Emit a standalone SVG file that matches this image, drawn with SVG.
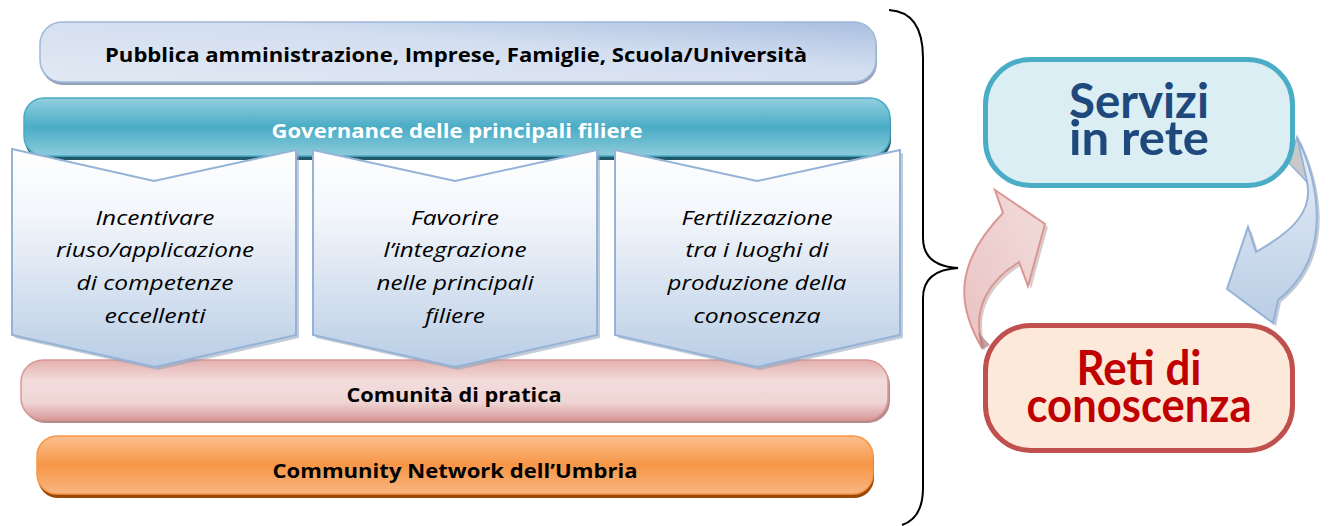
<svg xmlns="http://www.w3.org/2000/svg" width="1330" height="526" viewBox="0 0 1330 526">
<defs>
<linearGradient id="gTop" x1="0" y1="1" x2="1" y2="0">
<stop offset="0" stop-color="#e2e9f3"/>
<stop offset="0.6" stop-color="#d3def0"/>
<stop offset="1" stop-color="#a9bfdf"/>
</linearGradient>
<linearGradient id="gGov" x1="0" y1="0" x2="0" y2="1">
<stop offset="0" stop-color="#93cfdf"/>
<stop offset="0.5" stop-color="#4aacc6"/>
<stop offset="1" stop-color="#8ccbdb"/>
</linearGradient>
<linearGradient id="gCom" x1="0" y1="0" x2="0" y2="1">
<stop offset="0" stop-color="#e3b0ae"/>
<stop offset="0.35" stop-color="#f2dcdb"/>
<stop offset="0.7" stop-color="#efd6d5"/>
<stop offset="1" stop-color="#d9999a"/>
</linearGradient>
<linearGradient id="gNet" x1="0" y1="0" x2="0" y2="1">
<stop offset="0" stop-color="#fabf8f"/>
<stop offset="0.5" stop-color="#f79646"/>
<stop offset="1" stop-color="#f9b683"/>
</linearGradient>
<linearGradient id="gChev" x1="0" y1="0" x2="0" y2="1">
<stop offset="0" stop-color="#ffffff"/>
<stop offset="0.3" stop-color="#f3f6fb"/>
<stop offset="1" stop-color="#b9cde5"/>
</linearGradient>
<linearGradient id="gRed" x1="0" y1="1" x2="1" y2="0">
<stop offset="0" stop-color="#e9c3c3"/>
<stop offset="1" stop-color="#f2dcdb"/>
</linearGradient>
<linearGradient id="gBlue" x1="0" y1="0" x2="0" y2="1">
<stop offset="0" stop-color="#e8eef7"/>
<stop offset="1" stop-color="#b9cde5"/>
</linearGradient>
<style>
.bar{font-family:"Open Sans","Liberation Sans",sans-serif;font-weight:bold;font-size:19.5px;text-anchor:middle}
.it{font-family:"Open Sans","Liberation Sans",sans-serif;font-style:italic;font-size:20.5px;text-anchor:middle;fill:#000}
.big{font-family:Lato,"Open Sans",sans-serif;font-weight:bold;font-size:47px;text-anchor:middle}
.chev{fill:url(#gChev);stroke:#95b3d7;stroke-width:2}
.chevsh{fill:#8fa1b8;opacity:0.55}
</style>
</defs>

<g id="bar-pubblica">
<rect x="41" y="25" width="836" height="60" rx="22" fill="#93a2b6"/>
<rect x="40" y="22" width="836" height="60" rx="22" fill="url(#gTop)" stroke="#9fb8da" stroke-width="1.5"/>
<text class="bar" x="456" y="62" textLength="702" lengthAdjust="spacingAndGlyphs">Pubblica amministrazione, Imprese, Famiglie, Scuola/Università</text>
</g>

<g id="bar-governance">
<rect x="25" y="102" width="866" height="58" rx="20" fill="#215968"/>
<rect x="24" y="98" width="866" height="58" rx="20" fill="url(#gGov)" stroke="#4bacc6" stroke-width="1.5"/>
<text class="bar" x="457" y="138" fill="#ffffff" textLength="371" lengthAdjust="spacingAndGlyphs">Governance delle principali filiere</text>
</g>

<g id="bar-comunita">
<rect x="23" y="363" width="867" height="60" rx="22" fill="#b58c8c"/>
<rect x="21" y="360" width="867" height="60" rx="22" fill="url(#gCom)" stroke="#d99694" stroke-width="1.5"/>
<text class="bar" x="454" y="402" fill="#000" textLength="215" lengthAdjust="spacingAndGlyphs">Comunità di pratica</text>
</g>

<g id="bar-network">
<rect x="38" y="440" width="836" height="58" rx="20" fill="#984807"/>
<rect x="37" y="436" width="836" height="58" rx="20" fill="url(#gNet)" stroke="#f79646" stroke-width="1.5"/>
<text class="bar" x="455" y="478" fill="#000" textLength="365" lengthAdjust="spacingAndGlyphs">Community Network dell’Umbria</text>
</g>

<g id="chevron-1">
<path class="chevsh" d="M15 152 L156 184 L299 153 L299 338 L158 370 L15 338 Z"/>
<path class="chev" d="M12 149 L154 181 L296 150 L296 335 L155 367 L12 335 Z"/>
<text class="it" x="155" y="225" textLength="119" lengthAdjust="spacingAndGlyphs">Incentivare</text>
<text class="it" x="155" y="257" textLength="198" lengthAdjust="spacingAndGlyphs">riuso/applicazione</text>
<text class="it" x="155" y="290" textLength="157" lengthAdjust="spacingAndGlyphs">di competenze</text>
<text class="it" x="155" y="323" textLength="101" lengthAdjust="spacingAndGlyphs">eccellenti</text>
</g>

<g id="chevron-2">
<path class="chevsh" d="M316 153 L458 184 L600 153 L600 338 L458 370 L316 338 Z"/>
<path class="chev" d="M313 150 L455 181 L597 150 L597 335 L455 367 L313 335 Z"/>
<text class="it" x="455" y="225" textLength="88" lengthAdjust="spacingAndGlyphs">Favorire</text>
<text class="it" x="455" y="257" textLength="143" lengthAdjust="spacingAndGlyphs">l’integrazione</text>
<text class="it" x="455" y="290" textLength="157" lengthAdjust="spacingAndGlyphs">nelle principali</text>
<text class="it" x="455" y="323" textLength="60" lengthAdjust="spacingAndGlyphs">filiere</text>
</g>

<g id="chevron-3">
<path class="chevsh" d="M618 153 L760 184 L903 153 L903 338 L760 370 L618 338 Z"/>
<path class="chev" d="M615 150 L757 181 L900 150 L900 335 L757 367 L615 335 Z"/>
<text class="it" x="757" y="225" textLength="151" lengthAdjust="spacingAndGlyphs">Fertilizzazione</text>
<text class="it" x="757" y="257" textLength="143" lengthAdjust="spacingAndGlyphs">tra i luoghi di</text>
<text class="it" x="757" y="290" textLength="179" lengthAdjust="spacingAndGlyphs">produzione della</text>
<text class="it" x="757" y="323" textLength="127" lengthAdjust="spacingAndGlyphs">conoscenza</text>
</g>

<g id="connectors">
<path d="M889 10 Q923 12 923 58 L923 238 Q923 266 958 268 Q923 270 923 298 L923 488 Q923 518 902 525" fill="none" stroke="#000" stroke-width="2"/>
<path d="M985 351 C963 312 952 270 1005 215 L997 193 L1048 227 L1031 289 L1022 265 C993 283 978 308 983 338 Z" fill="#b89a9a" opacity="0.5"/>
<path d="M982 348 C960 310 950 268 1003 213 L995 190 L1045 224 L1028 286 L1019 262 C990 280 975 305 980 335 Z" fill="url(#gRed)" stroke="#d99694" stroke-width="2"/>
<path d="M978 332 L990 345 L982 350 Z" fill="#b07a7a" opacity="0.7"/>
<path d="M1300 140 C1321 182 1338 257 1281 302 L1276 326 L1230 292 L1251 230 L1259 255 C1298 233 1316 213 1310 185 Z" fill="#8e9fb5" opacity="0.55"/>
<path d="M1297 137 C1318 180 1335 255 1278 300 L1273 323 L1227 289 L1248 227 L1256 252 C1295 230 1313 210 1307 182 Z" fill="url(#gBlue)" stroke="#95b3d7" stroke-width="2"/>
<path d="M1289 163 L1297 137 L1307 182 Z" fill="#c9c9c9" stroke="#95b3d7" stroke-width="1.5"/>
</g>

<g id="node-servizi">
<rect x="985.5" y="59.5" width="307" height="126" rx="45" fill="#daeef3" stroke="#4bacc6" stroke-width="5"/>
<text class="big" fill="#1f497d"><tspan x="1139" y="118" textLength="140" lengthAdjust="spacingAndGlyphs">Servizi</tspan><tspan x="1139" y="155" textLength="140" lengthAdjust="spacingAndGlyphs">in rete</tspan></text>
</g>

<g id="node-reti">
<rect x="985.5" y="325.5" width="307" height="125" rx="45" fill="#fde9d9" stroke="#c0504d" stroke-width="5"/>
<text class="big" fill="#c00000"><tspan x="1139" y="385" textLength="125" lengthAdjust="spacingAndGlyphs">Reti di</tspan><tspan x="1139" y="422" textLength="225" lengthAdjust="spacingAndGlyphs">conoscenza</tspan></text>
</g>
</svg>
